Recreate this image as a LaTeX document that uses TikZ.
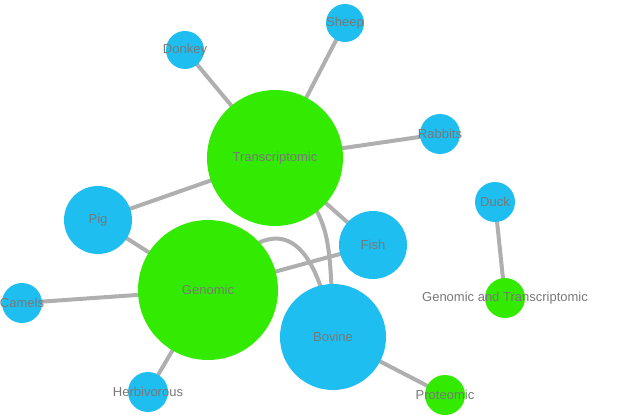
\documentclass[tikz,border=0pt]{standalone}
\usepackage{fontspec}
\setmainfont{Liberation Sans}
\definecolor{nblue}{RGB}{30,190,240}
\definecolor{ngreen}{RGB}{50,235,0}
\definecolor{ntext}{RGB}{120,120,120}
\definecolor{nedge}{RGB}{175,175,175}
\begin{document}
\begin{tikzpicture}[x=1pt,y=-1pt,
  bn/.style={circle,fill=nblue,inner sep=0pt,minimum size=#1},
  gn/.style={circle,fill=ngreen,inner sep=0pt,minimum size=#1},
  lbl/.style={text=ntext,font=\fontsize{13}{15}\selectfont},
  edge/.style={draw=nedge,line width=4pt}]
\useasboundingbox (0,0) rectangle (624,420);
\coordinate (T) at (275,158);
\coordinate (G) at (208,290);
\coordinate (B) at (333,337);
\coordinate (F) at (373,245);
\coordinate (P) at (98,220);
\coordinate (D) at (185,50);
\coordinate (S) at (345,23);
\coordinate (R) at (440,134);
\coordinate (C) at (22,303);
\coordinate (H) at (148,392);
\coordinate (Pr) at (445,395);
\coordinate (Du) at (495,202);
\coordinate (GT) at (505,298);
\draw[edge] (D)--(T) (S)--(T) (R)--(T) (P)--(T) (F)--(T) (P)--(G) (C)--(G) (H)--(G) (G)--(F) (B)--(Pr) (Du)--(GT);
\draw[edge] (G) .. controls (265,215) and (312,215) .. (B);
\draw[edge] (T) .. controls (330,220) .. (B);
\node[gn=136pt] (t) at (T) {};
\node[gn=140pt] (g) at (G) {};
\node[bn=106pt] (b) at (B) {};
\node[bn=68pt] (f) at (F) {};
\node[bn=68pt] (p) at (P) {};
\node[bn=38pt] (d) at (D) {};
\node[bn=38pt] (s) at (S) {};
\node[bn=40pt] (r) at (R) {};
\node[bn=40pt] (c) at (C) {};
\node[bn=40pt] (h) at (H) {};
\node[gn=40pt] (pr) at (Pr) {};
\node[bn=40pt] (du) at (Du) {};
\node[gn=40pt] (gt) at (GT) {};
\node[lbl] (tl) at (T) {Transcriptomic};
\node[lbl] (gl) at (G) {Genomic};
\node[lbl] (bl) at (B) {Bovine};
\node[lbl] (fl) at (F) {Fish};
\node[lbl] (pl) at (P) {Pig};
\node[lbl] (dl) at (D) {Donkey};
\node[lbl] (sl) at (S) {Sheep};
\node[lbl] (rl) at (R) {Rabbits};
\node[lbl] (cl) at (C) {Camels};
\node[lbl] (hl) at (H) {Herbivorous};
\node[lbl] (prl) at (Pr) {Proteomic};
\node[lbl] (dul) at (Du) {Duck};
\node[lbl] (gtl) at (GT) {Genomic and Transcriptomic};
\end{tikzpicture}
\end{document}
